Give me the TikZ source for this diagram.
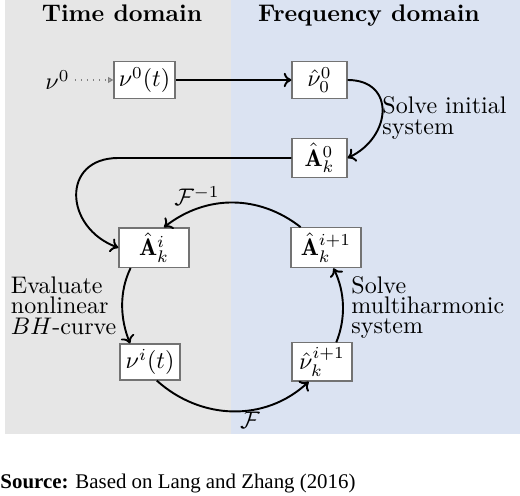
\documentclass[tikz,border=0pt]{standalone}
\usepackage{amsmath, amssymb}
\usepackage{fontspec}
\usepackage{tikz}
\usepackage{xcolor}
\usetikzlibrary{arrows.meta,positioning}
\newfontfamily\srcfont{Liberation Serif}
\definecolor{timebg}{RGB}{230,230,230}
\definecolor{freqbg}{RGB}{219,227,242}
\begin{document}
\begin{tikzpicture}[x=0.4167pt,y=0.4167pt,
  box/.style={draw=black!55, fill=white, line width=0.5pt, inner sep=2pt, minimum height=15.6pt},
  arr/.style={line width=0.8pt, -{To[length=3.2pt,width=6pt]}},
  lbl/.style={align=left, inner sep=0pt, font=\fontsize{10}{8.45}\selectfont}]
\useasboundingbox (0,0) rectangle (520,496);

% Backgrounds
\fill [timebg] (5,62) rectangle (231,496);
\fill [freqbg] (231,62) rectangle (520,496);

% Titles
\node [anchor=base] (ttime) at (122,474) {\textbf{Time domain}};
\node [anchor=base] (tfreq) at (369,474) {\textbf{Frequency domain}};

% Boxes
\node [inner sep=2pt] (nu0) at (57.5,416) {$\nu^0$};
\node [box, minimum width=23.75pt] (nut0) at (144.5,416) {$\nu^0(t)$};
\node [box, minimum width=22.9pt] (nuhat0) at (319.5,416) {$\hat{\nu}_0^0$};
\node [box, minimum width=22.9pt] (A0) at (319.5,338) {$\hat{\mathbf{A}}_k^0$};
\node [box, minimum width=29.2pt, minimum height=15.4pt] (Ai) at (154,248.3) {$\hat{\mathbf{A}}_k^i$};
\node [box, minimum width=29.2pt, minimum height=15.4pt] (Ai1) at (326,248.3) {$\hat{\mathbf{A}}_k^{i+1}$};
\node [box, minimum width=25pt, minimum height=15pt] (nui) at (150,134) {$\nu^i(t)$};
\node [box, minimum width=25pt, minimum height=15pt] (nuhati1) at (322,134) {$\hat{\nu}_k^{i+1}$};

% Initial step
\draw [dotted, gray, line width=0.5pt, -{Triangle[open,length=2.2pt,width=2.4pt]}] (nu0) -- (nut0);
\draw [arr] (nut0) -- (nuhat0);
\draw [arr] (nuhat0.east) to[out=0, in=25, looseness=1.6] (A0.east);
\draw [arr] (A0.west) -- (A0.west -| Ai.west) to[out=180, in=160, looseness=1.65] (Ai.west);

% Iteration loop
\draw [arr] (Ai1.141) to[out=142, in=38] (Ai.64);
\draw [arr] (Ai.221) to[out=244, in=112, looseness=0.9] (nui.137);
\draw [arr] (nui.290) to[out=318, in=223] (nuhati1.236);
\draw [arr] (nuhati1.54) to[out=68, in=296, looseness=0.9] (Ai1.290);

% Text Node
\node [lbl, anchor=west] (solveinit) at (382,378) {Solve initial\\system};
\node [lbl, anchor=west] (evalbh) at (10.5,190.3) {Evaluate\\nonlinear\\$BH$-curve};
\node [lbl, anchor=west] (solvemh) at (351,188.3) {Solve\\multiharmonic\\system};
\node (finv) at (197,300) {$\mathcal{F}^{-1}$};
\node (fwd) at (250,76) {$\mathcal{F}$};

% Source
\node [anchor=base west, inner sep=0pt, font=\srcfont\fontsize{8.7}{10}\selectfont] (source) at (0,7.7) {\textbf{Source:} Based on Lang and Zhang (2016)};
\end{tikzpicture}
\end{document}
